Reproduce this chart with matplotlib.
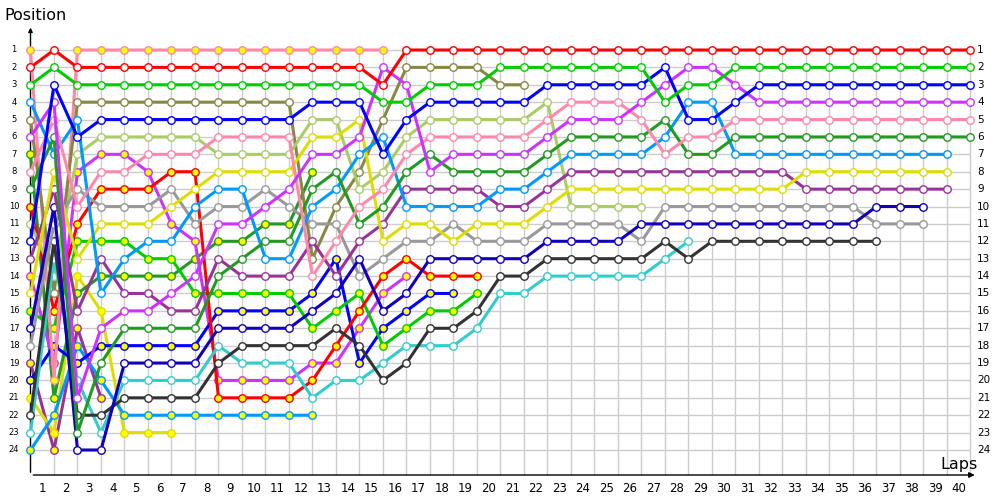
import matplotlib
matplotlib.use('Agg')
import matplotlib.pyplot as plt

# position per lap, starting at lap 0 (grid); list ends when the car retires
pink_y = [1, 20, 1, 1, 1, 1, 1, 1, 1, 1, 1, 1, 1, 1, 1, 1]
red_w = [2, 1] + [2] * 13 + [3] + [1] * 25
green_w = [3, 2] + [3] * 13 + [4, 4, 3, 3, 3] + [2] * 7 + [4, 3, 3] + [2] * 11
blue_w = [12, 3, 6] + [5] * 9 + [4, 4, 4, 7, 5] + [4] * 5 + [3] * 5 + [2, 5, 5, 4] + [3] * 10
violet_w = [6, 4, 21, 17, 16, 16, 15, 14, 11, 11, 10, 9, 7, 7, 6, 2, 3, 8,
            7, 7, 7, 7, 6, 5, 5, 5, 4, 3, 2, 2, 3] + [4] * 10
pink_w = [8, 5, 10, 8, 8, 7, 7, 7, 6, 6, 6, 6, 14, 12, 10, 9, 7,
          6, 6, 6, 6, 6, 5, 4, 4, 4, 5, 7, 6, 6] + [5] * 11
dkgreen_w = [9, 6, 23, 19, 17, 17, 17, 17, 14, 13, 12, 12, 9, 8, 11, 10, 8, 7,
             8, 8, 8, 8, 7, 6, 6, 6, 6, 5, 7, 7] + [6] * 11
dkgreen_y = [7, 21, 15, 14, 14, 14, 14, 13, 12, 12, 11, 11, 8]
ltblue_w = [4, 7, 5, 15, 13, 12, 12, 10, 9, 9, 13, 13, 10, 9, 7, 6,
            10, 10, 10, 10, 9, 9, 8, 7, 7, 7, 7, 6, 4, 4] + [7] * 10
yellow_w = [15, 8, 13, 11, 11, 11, 10, 9, 8, 8, 8, 8, 6, 6, 5, 12, 11, 11, 12, 11,
            11, 11, 10] + [9] * 10 + [8] * 7
purple_w = [13, 9, 16, 13, 15, 15, 16, 16, 13, 14, 14, 14, 12, 14, 12, 11,
            9, 9, 9, 9, 10, 10, 9] + [8] * 10 + [9] * 7
navy_w = [17, 10, 24, 24, 19, 19, 19, 19, 17, 17, 17, 17, 16, 15, 13, 16, 15,
          13, 13, 13, 13, 13, 12, 12, 12, 12] + [11] * 10 + [10] * 3
gray_w = [18, 11, 9, 10, 10, 10, 9, 11, 10, 10, 9, 10, 11, 11, 14, 13, 12, 12, 11, 12,
          12, 12, 11, 11, 11, 11, 12] + [10] * 9 + [11] * 3
black_w = [22, 12, 22, 22, 21, 21, 21, 21, 19, 18, 18, 18, 18, 17, 18, 20, 19, 17, 17,
           16, 14, 14, 13, 13, 13, 13, 13, 12, 13] + [12] * 8
teal_w = [23, 13, 20, 23, 20, 20, 20, 20, 18, 19, 19, 19, 21, 20, 20, 19, 18, 18, 18,
          17, 15, 15, 14, 14, 14, 14, 14, 13, 12]
olive_w = [5, 15] + [4] * 10 + [13, 10, 8, 5, 2, 2, 2, 2, 3, 3]
lime_w = [11, 14, 7, 6, 6, 6, 6, 6, 7, 7, 7, 7, 5, 5, 9, 8, 6, 5, 5, 5, 5, 5, 4,
          10, 10, 10, 10]
red_y = [10, 16, 11, 9, 9, 9, 8, 8, 21, 21, 21, 21, 20, 18, 16, 14, 13, 14, 14, 14]
green_y = [16, 17, 12, 12, 12, 13, 13, 15, 15, 15, 15, 15, 17, 16, 15, 18, 17, 16, 16, 15]
blue_y = [20, 18, 19, 18, 18, 18, 18, 18, 16, 16, 16, 16, 15, 13, 19, 17, 16, 15, 15]
violet_y = [14, 19, 8, 7, 7, 8, 11, 12, 20, 20, 20, 20, 19, 19, 17, 15, 14]
ltblue_y = [24, 22, 18, 20] + [22] * 9
yellow_y = [21, 23, 14, 16, 23, 23, 23]
purple_y = [19, 24, 17, 21]

laps = list(range(1, 41))
positions = list(range(1, 25))

RED, GREEN, BLUE = '#ff0000', '#00cc00', '#0000ff'
VIOLET, PINK, DKGREEN = '#cc33ff', '#ff88aa', '#229922'
LTBLUE, YELLOW, PURPLE = '#0099ff', '#dddd00', '#993399'
NAVY, GRAY, BLACK = '#1100bb', '#999999', '#333333'
OLIVE, LIME, TEAL = '#888844', '#aacc66', '#33cccc'

series = [
    (purple_y, PURPLE, True), (yellow_y, YELLOW, True), (ltblue_y, LTBLUE, True),
    (dkgreen_y, DKGREEN, True), (violet_y, VIOLET, True), (blue_y, BLUE, True),
    (green_y, GREEN, True), (red_y, RED, True), (pink_y, PINK, True),
    (olive_w, OLIVE, False), (lime_w, LIME, False), (teal_w, TEAL, False),
    (black_w, BLACK, False), (gray_w, GRAY, False), (navy_w, NAVY, False),
    (purple_w, PURPLE, False), (yellow_w, YELLOW, False), (ltblue_w, LTBLUE, False),
    (dkgreen_w, DKGREEN, False), (pink_w, PINK, False), (violet_w, VIOLET, False),
    (blue_w, BLUE, False), (green_w, GREEN, False), (red_w, RED, False),
]

fig = plt.figure(figsize=(10, 5), dpi=100)
ax = fig.add_axes([0, 0, 1, 1])
ax.set_axis_off()
# pixel mapping: lap 0 -> x=30.5, step 23.5 px; pos 1 -> y=50, pos 24 -> y=450
ax.set_xlim(-30.5 / 23.5, (1000 - 30.5) / 23.5)
ax.set_ylim(1 + 450 / (400 / 23), 1 - 50 / (400 / 23))

bottom = 1 + 425 / (400 / 23)
grid_c = '#cccccc'
ax.vlines(laps, 1, bottom, color=grid_c, lw=1, zorder=1)
ax.hlines(positions, 0, 40, color=grid_c, lw=1, zorder=1)

ax.annotate('', xy=(0, -0.45), xytext=(0, bottom),
            arrowprops=dict(arrowstyle='-|>', color='black', lw=1, mutation_scale=6), zorder=2)
ax.annotate('', xy=(40.3, bottom), xytext=(0, bottom),
            arrowprops=dict(arrowstyle='-|>', color='black', lw=1, mutation_scale=8), zorder=2)

for pos_list, col, yel in series:
    ax.plot(range(len(pos_list)), pos_list, color=col, lw=2.2, marker='o', ms=5.4,
            mfc='#ffff00' if yel else 'white', mec=col, mew=1, zorder=3,
            solid_joinstyle='round')

for p in positions:
    ax.text(-0.7, p, str(p), fontsize=6, ha='center', va='center')
    ax.text(40.28, p, str(p), fontsize=7.5, ha='left', va='center')
for lap in laps:
    ax.text(lap - 0.5, bottom + 0.75, str(lap), fontsize=8.5, ha='center', va='center')

ax.text(-1.1, -1.0, 'Position', fontsize=11.5, ha='left', va='center')
ax.text(39.5, 24.85, 'Laps', fontsize=11.5, ha='center', va='center')

fig.savefig('out.png', dpi=100)
